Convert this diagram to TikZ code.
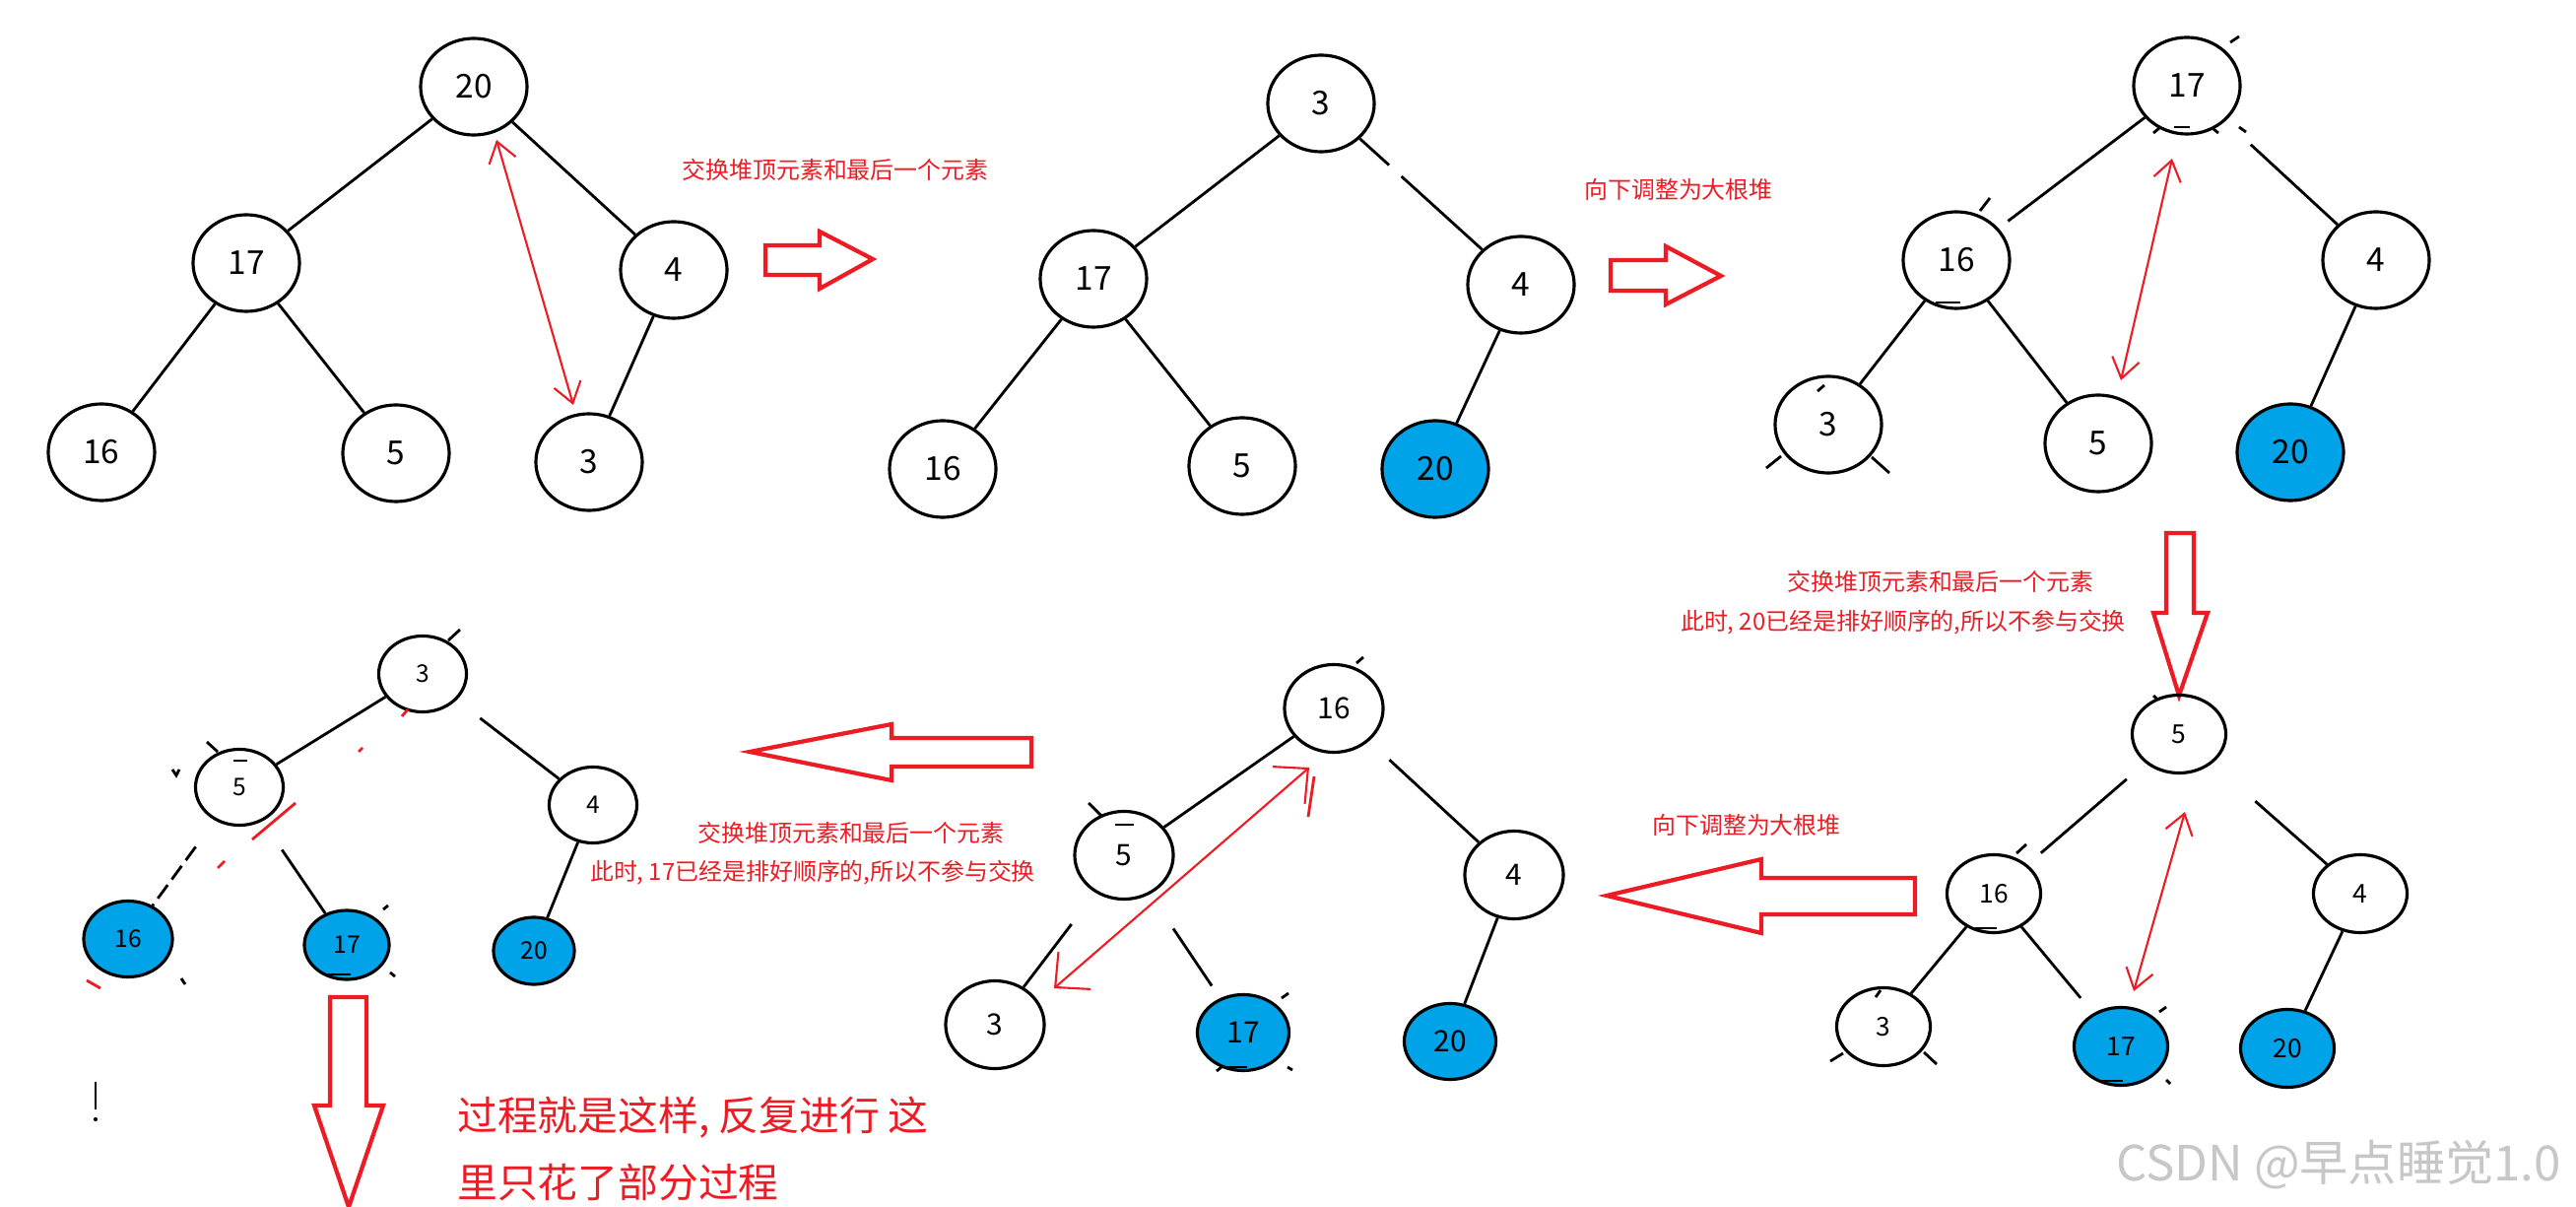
\documentclass[tikz,border=0pt]{standalone}
\usepackage{fontspec}
\setmainfont{Noto Sans CJK SC}
\usetikzlibrary{shapes.geometric,arrows.meta}
\definecolor{paintblue}{RGB}{0,162,232}
\definecolor{paintred}{RGB}{237,28,36}

\begin{document}
\begin{tikzpicture}[x=0.01cm,y=-0.01cm,thick,
    heap node/.style={ellipse,draw,line width=0.9pt,inner sep=0pt,minimum width=1.08cm,minimum height=0.98cm,font=\fontsize{9.5}{11}\selectfont},
    mid node/.style={heap node,minimum width=1cm,minimum height=0.89cm,font=\fontsize{8.5}{10}\selectfont},
    small node/.style={heap node,minimum width=0.95cm,minimum height=0.79cm,font=\fontsize{7.5}{9}\selectfont},
    tiny node/.style={heap node,minimum width=0.89cm,minimum height=0.77cm,font=\fontsize{7}{8}\selectfont},
    sorted/.style={fill=paintblue},
    swap/.style={draw=paintred,line width=0.6pt,{Straight Barb[length=2mm,width=2.8mm]}-{Straight Barb[length=2mm,width=2.8mm]}},
    swap big/.style={draw=paintred,line width=0.6pt,{Straight Barb[length=2.6mm,width=5mm]}-{Straight Barb[length=2.6mm,width=5mm]}},
    hollow/.style={draw=paintred,line width=1.2pt,line join=miter},
    note/.style={text=paintred,font=\fontsize{6.8}{8}\selectfont,inner sep=0pt},
    scratch/.style={line width=0.8pt},
    red scratch/.style={draw=paintred,line width=0.8pt}]

        \useasboundingbox[fill=white] (0,0) rectangle (2615,1225);

        % start heap
        \node[heap node] (a20) at (481,88) {20};
        \node[heap node] (a17) at (250,267) {17};
        \node[heap node] (a4) at (684,274) {4};
        \node[heap node] (a16) at (103,459) {16};
        \node[heap node] (a5) at (402,460) {5};
        \node[heap node] (a3) at (598,469) {3};

        \draw (a20) to (a17);
        \draw (a20) to (a4);
        \draw (a17) to (a16);
        \draw (a17) to (a5);
        \draw (a4) to (a3);

        \coordinate (s1a) at (504,142);
        \coordinate (s1b) at (582,411);
        \draw[swap] (s1a) -- (s1b);

        \node[note] (n1) at (848,172) {交换堆顶元素和最后一个元素};
        \draw[hollow] (777,249) -- (832,249) -- (832,235) -- (886,263) -- (832,293) -- (832,279) -- (777,279) -- cycle;

        % after the swap
        \node[heap node] (b3) at (1341,105) {3};
        \node[heap node] (b17) at (1110,283) {17};
        \node[heap node] (b4) at (1544,289) {4};
        \node[heap node] (b16) at (957,476) {16};
        \node[heap node] (b5) at (1261,473) {5};
        \node[heap node, sorted] (b20) at (1457,476) {20};

        \draw (b3) to (b17);
        \draw[dash pattern=on 0.4cm off 0.17cm on 3cm] (b3) to (b4);
        \draw (b17) to (b16);
        \draw (b17) to (b5);
        \draw (b4) to (b20);

        \node[note] (n2) at (1704,192) {向下调整为大根堆};
        \draw[hollow] (1635,264) -- (1691,264) -- (1691,250) -- (1747,280) -- (1691,309) -- (1691,295) -- (1635,295) -- cycle;

        % sifted down
        \node[heap node] (c17) at (2220,87) {17};
        \node[heap node] (c16) at (1986,264) {16};
        \node[heap node] (c4) at (2412,264) {4};
        \node[heap node] (c3) at (1856,431) {3};
        \node[heap node] (c5) at (2130,450) {5};
        \node[heap node, sorted] (c20) at (2325,459) {20};

        \draw[shorten >=0.12cm] (c17) to (c16);
        \draw[shorten <=0.35cm] (c17) to (c4);
        \draw (c16) to (c3);
        \draw (c16) to (c5);
        \draw (c4) to (c20);

        \coordinate (s3a) at (2205,161);
        \coordinate (s3b) at (2153,386);
        \draw[swap] (s3a) -- (s3b);

        \draw[scratch] (2264,43) -- (2273,37);
        \draw[scratch] (2186,135) -- (2192,130);
        \draw[scratch] (2207,129) -- (2223,129);
        \draw[scratch] (2247,131) -- (2252,135);
        \draw[scratch] (2273,129) -- (2280,134);
        \draw[scratch] (2020,201) -- (2010,214);
        \draw[scratch] (1965,307) -- (1990,307);
        \draw[scratch] (1852,391) -- (1845,397);
        \draw[scratch] (1808,463) -- (1793,475);
        \draw[scratch] (1900,464) -- (1918,480);

        \draw[hollow] (2199,541) -- (2227,541) -- (2227,622) -- (2241,622) -- (2212,706) -- (2186,622) -- (2199,622) -- cycle;
        \node[note] (n3) at (1970,590) {交换堆顶元素和最后一个元素};
        \node[note] (n3b) at (1932,632) {此时, 20已经是排好顺序的,所以不参与交换};

        % second swap
        \node[small node] (d5) at (2212,745) {5};
        \node[small node] (d16) at (2024,907) {16};
        \node[small node] (d4) at (2396,907) {4};
        \node[small node] (d3) at (1912,1042) {3};
        \node[small node, sorted] (d17) at (2153,1062) {17};
        \node[small node, sorted] (d20) at (2322,1064) {20};

        \draw[shorten <=0.25cm, shorten >=0.18cm] (d5) to (d16);
        \draw[shorten <=0.58cm] (d5) to (d4);
        \draw (d16) to (d3);
        \draw[shorten >=0.2cm] (d16) to (d17);
        \draw (d4) to (d20);

        \coordinate (s4a) at (2218,824);
        \coordinate (s4b) at (2166,1006);
        \draw[swap] (s4a) -- (s4b);

        \draw[scratch] (2186,706) -- (2190,710);
        \draw[scratch] (2057,857) -- (2047,866);
        \draw[scratch] (2005,942) -- (2027,942);
        \draw[scratch] (1909,1005) -- (1904,1012);
        \draw[scratch] (1871,1069) -- (1858,1077);
        \draw[scratch] (1953,1068) -- (1966,1080);
        \draw[scratch] (2192,1027) -- (2199,1022);
        \draw[scratch] (2134,1097) -- (2155,1097);
        \draw[scratch] (2199,1096) -- (2203,1100);

        \node[note] (n4) at (1773,837) {向下调整为大根堆};
        \draw[hollow] (1944,891) -- (1788,891) -- (1788,872) -- (1631,909) -- (1788,947) -- (1788,928) -- (1944,928) -- cycle;

        % sifted down again
        \node[mid node] (e16) at (1354,719) {16};
        \node[mid node] (e5) at (1141,868) {5};
        \node[mid node] (e4) at (1537,888) {4};
        \node[mid node] (e3) at (1010,1040) {3};
        \node[mid node, sorted, minimum width=0.93cm, minimum height=0.77cm] (e17) at (1262,1048) {17};
        \node[mid node, sorted, minimum width=0.93cm, minimum height=0.77cm] (e20) at (1472,1057) {20};

        \draw (e16) to (e5);
        \draw[shorten <=0.28cm] (e16) to (e4);
        \draw[shorten <=0.4cm] (e5) to (e3);
        \draw[shorten <=0.42cm, shorten >=0.15cm] (e5) to (e17);
        \draw (e4) to (e20);

        \coordinate (s5a) at (1329,779);
        \coordinate (s5b) at (1070,1003);
        \draw[swap big] (s5a) -- (s5b);
        \draw[red scratch] (1334,788) -- (1328,829);

        \draw[scratch] (1377,673) -- (1384,667);
        \draw[scratch] (1105,815) -- (1118,828);
        \draw[scratch] (1132,837) -- (1151,837);
        \draw[scratch] (1301,1013) -- (1308,1008);
        \draw[scratch] (1235,1087) -- (1240,1083);
        \draw[scratch] (1243,1083) -- (1266,1083);
        \draw[scratch] (1307,1083) -- (1312,1086);

        \draw[hollow] (1047,749) -- (905,749) -- (905,735) -- (761,763) -- (905,792) -- (905,778) -- (1047,778) -- cycle;
        \node[note] (n5) at (864,845) {交换堆顶元素和最后一个元素};
        \node[note] (n5b) at (825,886) {此时, 17已经是排好顺序的,所以不参与交换};

        % third swap
        \node[tiny node] (f3) at (429,684) {3};
        \node[tiny node] (f5) at (243,799) {5};
        \node[tiny node] (f4) at (602,817) {4};
        \node[tiny node, sorted, minimum width=0.9cm] (f16) at (130,953) {16};
        \node[tiny node, sorted, minimum width=0.86cm, minimum height=0.7cm] (f17) at (352,959) {17};
        \node[tiny node, sorted, minimum width=0.82cm, minimum height=0.68cm] (f20) at (542,965) {20};

        \draw (f3) to (f5);
        \draw[shorten <=0.3cm] (f3) to (f4);
        \draw[shorten <=0.33cm, dash pattern=on 0.17cm off 0.07cm] (f5) to (f16);
        \draw[shorten <=0.35cm] (f5) to (f17);
        \draw (f4) to (f20);

        \draw[scratch] (455,650) -- (467,639);
        \draw[scratch] (210,753) -- (221,763);
        \draw[scratch] (175,781) -- (179,787) -- (182,781);
        \draw[scratch] (237,772) -- (251,772);
        \draw[scratch] (184,993) -- (188,999);
        \draw[scratch] (389,923) -- (394,919);
        \draw[scratch] (328,989) -- (356,989);
        \draw[scratch] (396,987) -- (401,991);
        \draw[scratch] (97,1098) -- (97,1126);
        \fill (97,1136) circle (0.6pt);

        \draw[red scratch] (300,815) -- (256,852);
        \draw[red scratch] (414,720) -- (408,727);
        \draw[red scratch] (368,759) -- (364,763);
        \draw[red scratch] (228,874) -- (221,881);
        \draw[red scratch] (88,995) -- (102,1003);

        \draw[hollow] (335,1012) -- (372,1012) -- (372,1122) -- (389,1122) -- (354,1225) -- (319,1122) -- (335,1122) -- cycle;
        \node[text=paintred, font=\fontsize{11.6}{14}\selectfont, anchor=west, inner sep=0pt] (m1) at (463,1134) {过程就是这样, 反复进行 这};
        \node[text=paintred, font=\fontsize{11.6}{14}\selectfont, anchor=west, inner sep=0pt] (m2) at (463,1200) {里只花了部分过程};

        \node[text=black!22, font=\fontsize{14}{16}\selectfont] (mark) at (2374,1182) {CSDN @早点睡觉1.0};

\end{tikzpicture}
\end{document}
